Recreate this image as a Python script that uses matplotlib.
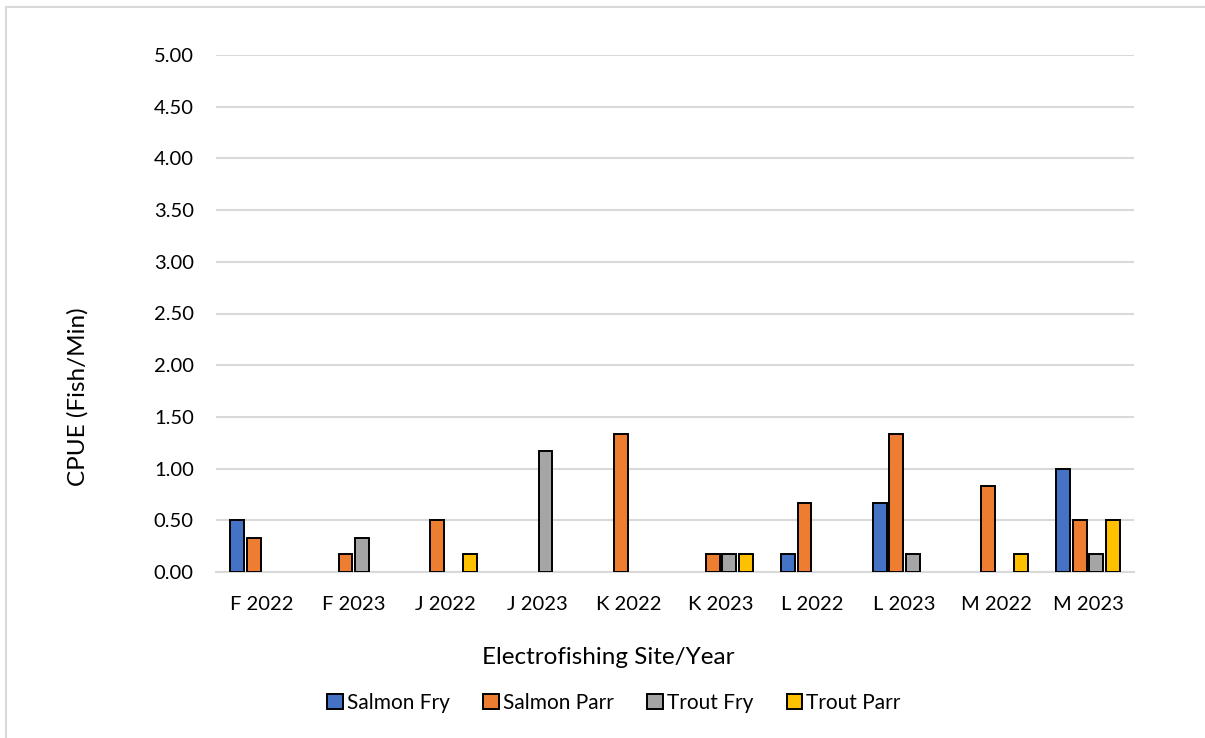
import matplotlib
matplotlib.use("Agg")
import matplotlib.pyplot as plt
from matplotlib.patches import Rectangle
import numpy as np

plt.rcParams['font.family'] = ['Lato', 'DejaVu Sans']

sites = ["F 2022", "F 2023", "J 2022", "J 2023", "K 2022",
         "K 2023", "L 2022", "L 2023", "M 2022", "M 2023"]
salmon_fry = [0.50, 0.00, 0.00, 0.00, 0.00, 0.00, 0.17, 0.67, 0.00, 1.00]
salmon_parr = [0.33, 0.17, 0.50, 0.00, 1.33, 0.17, 0.67, 1.33, 0.83, 0.50]
trout_fry = [0.00, 0.33, 0.00, 1.17, 0.00, 0.17, 0.00, 0.17, 0.00, 0.17]
trout_parr = [0.00, 0.00, 0.17, 0.00, 0.00, 0.17, 0.00, 0.00, 0.17, 0.50]
y_ticks = [0.0, 0.5, 1.0, 1.5, 2.0, 2.5, 3.0, 3.5, 4.0, 4.5, 5.0]

series = [
    ("Salmon Fry", salmon_fry, "#4472C4"),
    ("Salmon Parr", salmon_parr, "#ED7D31"),
    ("Trout Fry", trout_fry, "#A5A5A5"),
    ("Trout Parr", trout_parr, "#FFC000"),
]

W, H = 1205, 738
fig = plt.figure(figsize=(W / 100, H / 100), dpi=100)

# light grey chart-area frame
fig.patches.append(Rectangle((6 / W, -0.05), 1.2, 1 - 7 / H + 0.05,
                             transform=fig.transFigure, fill=False,
                             edgecolor="#d9d9d9", linewidth=1.5))

ax = fig.add_axes([216 / W, 1 - 572 / H, (1134 - 216) / W, (572 - 55) / H])

x = np.arange(len(sites))
pitch = 0.18
bw = 0.15
for i, (name, vals, col) in enumerate(series):
    v = np.array(vals)
    pos = x + (i - 1.5) * pitch
    mask = v > 0
    ax.bar(pos[mask], v[mask], width=bw, color=col, edgecolor="black",
           linewidth=1.4, zorder=3)
    ax.bar([np.nan], [0], width=bw, color=col, edgecolor="black",
           linewidth=1.4, label=name)

ax.set_xlim(-0.5, len(sites) - 0.5)
ax.set_ylim(0, 5.0)
ax.set_yticks(y_ticks)
ax.set_yticklabels([f"{t:.2f}" for t in y_ticks])
ax.set_xticks(x)
ax.set_xticklabels(sites)
ax.tick_params(axis="both", length=0, labelsize=14.5, colors="#000000")
ax.tick_params(axis="y", pad=16)
ax.tick_params(axis="x", pad=17)
ax.grid(axis="y", color="#d9d9d9", linewidth=1.5, zorder=0)
ax.set_axisbelow(True)
for s in ["top", "right", "left"]:
    ax.spines[s].set_visible(False)
ax.spines["bottom"].set_color("#d9d9d9")
ax.spines["bottom"].set_linewidth(1.5)

fig.text(78 / W, 1 - 397 / H, "CPUE (Fish/Min)", fontsize=17.5,
         rotation=90, ha="center", va="center")
fig.text(608 / W, 1 - 657 / H, "Electrofishing Site/Year", fontsize=17.5,
         ha="center", va="center")

leg = fig.legend(loc="center", bbox_to_anchor=(614 / W, 1 - 703 / H), ncol=4,
                 frameon=False, fontsize=15, handlelength=0.75, handleheight=0.75,
                 handletextpad=0.2, columnspacing=1.6)

fig.savefig("out.png", dpi=100, facecolor="white")
